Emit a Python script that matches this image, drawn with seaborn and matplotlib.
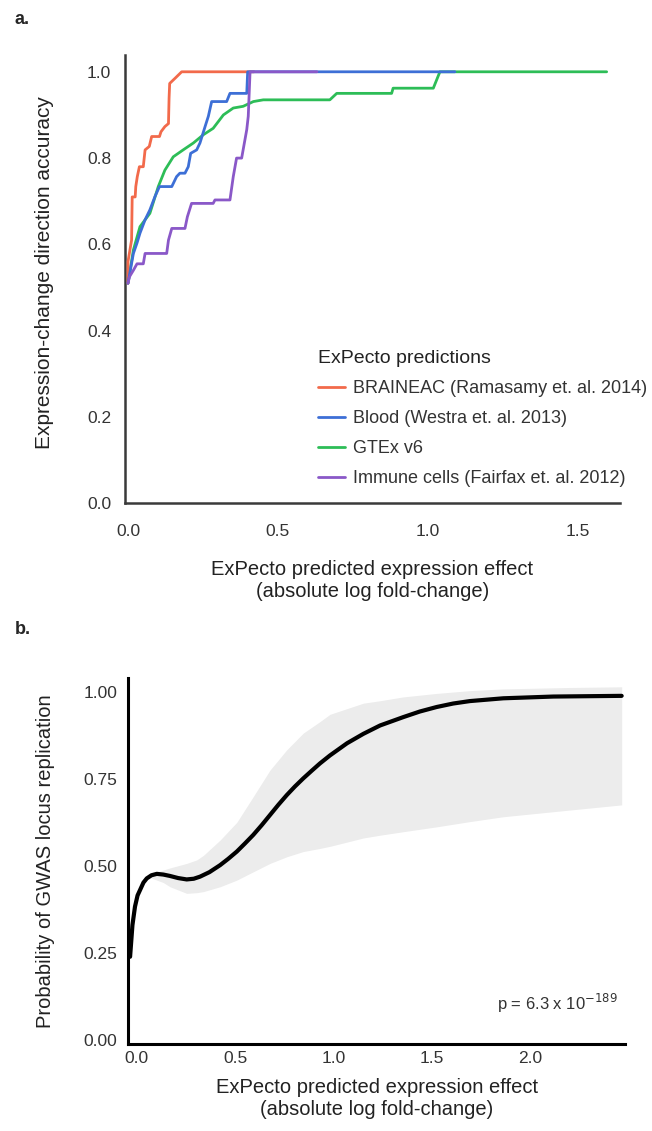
import matplotlib
matplotlib.use("Agg")
import matplotlib.pyplot as plt
import pandas as pd
import seaborn as sns

sns.set_theme(style="white")
plt.rcParams["font.family"] = ["Liberation Sans", "DejaVu Sans"]

# ------------------------------------------------------
# DATA  (panel a: direction accuracy curves)
# ------------------------------------------------------
series_names = [
    "BRAINEAC (Ramasamy et. al. 2014)",
    "Blood (Westra et. al. 2013)",
    "GTEx v6",
    "Immune cells (Fairfax et. al. 2012)",
]
series_colors = ["#f26a4b", "#3d6fd6", "#2dbd57", "#8a58c8"]

brain_x = [0.0, 0.0, 0.012, 0.014, 0.024, 0.026, 0.031, 0.038, 0.051, 0.057, 0.071, 0.079,
           0.105, 0.11, 0.123, 0.135, 0.137, 0.139, 0.157, 0.179, 0.42]
brain_y = [0.51, 0.56, 0.61, 0.71, 0.71, 0.734, 0.757, 0.78, 0.78, 0.819, 0.827, 0.85,
           0.85, 0.861, 0.873, 0.88, 0.939, 0.973, 0.985, 1.0, 1.0]

blood_x = [0.0, 0.018, 0.03, 0.04, 0.057, 0.073, 0.09, 0.105, 0.146, 0.162, 0.173, 0.19,
           0.201, 0.209, 0.229, 0.24, 0.257, 0.268, 0.279, 0.329, 0.34, 0.396, 0.399, 1.09]
blood_y = [0.51, 0.579, 0.603, 0.626, 0.657, 0.68, 0.711, 0.734, 0.734, 0.757, 0.765, 0.765,
           0.78, 0.811, 0.819, 0.835, 0.873, 0.897, 0.931, 0.931, 0.95, 0.95, 1.0, 1.0]

gtex_x = [0.0, 0.018, 0.04, 0.073, 0.101, 0.123, 0.151, 0.184, 0.218, 0.251, 0.284, 0.318,
          0.351, 0.384, 0.418, 0.451, 0.673, 0.696, 0.879, 0.884, 1.018, 1.04, 1.596]
gtex_y = [0.51, 0.587, 0.641, 0.672, 0.734, 0.772, 0.803, 0.819, 0.835, 0.854, 0.869, 0.9,
          0.916, 0.92, 0.931, 0.935, 0.935, 0.95, 0.95, 0.962, 0.962, 1.0, 1.0]

immune_x = [0.0, 0.005, 0.018, 0.03, 0.051, 0.057, 0.129, 0.135, 0.146, 0.19, 0.198, 0.212,
            0.284, 0.29, 0.34, 0.351, 0.362, 0.379, 0.396, 0.401, 0.407, 0.63]
immune_y = [0.51, 0.525, 0.54, 0.555, 0.555, 0.579, 0.579, 0.61, 0.637, 0.637, 0.664, 0.695,
            0.695, 0.703, 0.703, 0.757, 0.8, 0.8, 0.866, 0.897, 1.0, 1.0]

# ------------------------------------------------------
# DATA  (panel b: GWAS replication probability)
# ------------------------------------------------------
fit_x = [-0.034, -0.022, -0.009, 0.004, 0.017, 0.034, 0.051, 0.075, 0.102, 0.135, 0.169,
         0.21, 0.254, 0.29, 0.322, 0.37, 0.424, 0.465, 0.509, 0.55, 0.593, 0.636, 0.678,
         0.72, 0.763, 0.805, 0.847, 0.89, 0.932, 0.983, 1.07, 1.153, 1.238, 1.356, 1.44,
         1.526, 1.61, 1.695, 1.865, 2.119, 2.467]
fit_y = [0.239, 0.33, 0.383, 0.415, 0.431, 0.452, 0.464, 0.473, 0.477, 0.475, 0.471,
         0.465, 0.461, 0.463, 0.469, 0.482, 0.502, 0.52, 0.541, 0.564, 0.589, 0.617, 0.646,
         0.675, 0.703, 0.728, 0.751, 0.773, 0.794, 0.817, 0.852, 0.879, 0.903, 0.927, 0.943,
         0.956, 0.966, 0.973, 0.981, 0.986, 0.988]

band_x = [0.06, 0.135, 0.169, 0.254, 0.305, 0.339, 0.424, 0.509, 0.593, 0.678, 0.763,
          0.847, 0.932, 0.983, 1.153, 1.238, 1.356, 1.526, 1.695, 1.865, 2.2, 2.467]
band_hi = [0.474, 0.488, 0.494, 0.507, 0.517, 0.53, 0.574, 0.625, 0.699, 0.775, 0.833,
           0.881, 0.914, 0.935, 0.967, 0.974, 0.985, 0.995, 1.003, 1.008, 1.012, 1.014]
band_lo = [0.468, 0.452, 0.44, 0.421, 0.423, 0.426, 0.44, 0.459, 0.483, 0.507, 0.526,
           0.541, 0.55, 0.556, 0.58, 0.588, 0.598, 0.612, 0.627, 0.641, 0.66, 0.675]

fig = plt.figure(figsize=(6.52, 11.31), dpi=100)

# ------------------------------------------------------
# PANEL A
# ------------------------------------------------------
ax_a = fig.add_axes([0.1917, 0.555, 0.759, 0.3964])
curves = [(brain_x, brain_y), (blood_x, blood_y), (gtex_x, gtex_y), (immune_x, immune_y)]
zorders = [3, 4, 2, 5]
for (xs, ys), name, col, z in zip(curves, series_names, series_colors, zorders):
    df = pd.DataFrame({"x": xs, "y": ys})
    sns.lineplot(data=df, x="x", y="y", sort=False, estimator=None, color=col,
                 linewidth=2.0, label=name, zorder=z, ax=ax_a)

ax_a.set_xlim(-0.01, 1.64)
ax_a.set_ylim(0, 1.039)
ax_a.set_xticks([0.0, 0.5, 1.0, 1.5])
ax_a.set_yticks([0.0, 0.2, 0.4, 0.6, 0.8, 1.0])
ax_a.set_xticklabels(["0.0", "0.5", "1.0", "1.5"])
ax_a.set_yticklabels(["0.0", "0.2", "0.4", "0.6", "0.8", "1.0"])
ax_a.tick_params(axis="both", length=0, labelsize=12.5, colors="#333333")
ax_a.tick_params(axis="x", pad=15)
ax_a.tick_params(axis="y", pad=10)
ax_a.set_xlabel("ExPecto predicted expression effect\n(absolute log fold-change)",
                fontsize=14.5, color="#222222")
ax_a.set_ylabel("Expression-change direction accuracy", fontsize=15, color="#222222")
ax_a.xaxis.set_label_coords(0.5, -0.126)
ax_a.yaxis.set_label_coords(-0.143, 0.515)
for side in ["top", "right"]:
    ax_a.spines[side].set_visible(False)
for side in ["left", "bottom"]:
    ax_a.spines[side].set_color("#3a3a3a")
    ax_a.spines[side].set_linewidth(1.8)

handles, labels = ax_a.get_legend_handles_labels()
order = [labels.index(n) for n in series_names]
leg = ax_a.legend([handles[i] for i in order], [labels[i] for i in order],
                  title="ExPecto predictions", loc="upper left",
                  bbox_to_anchor=(0.39, 0.342), frameon=False, fontsize=13,
                  title_fontsize=14, alignment="left", borderpad=0, borderaxespad=0,
                  handlelength=1.5, handletextpad=0.45, labelspacing=0.72)
for t in leg.get_texts():
    t.set_color("#333333")
leg.get_title().set_color("#222222")

fig.text(0.022, 0.983, "a.", fontsize=13, fontweight="bold", ha="left", va="center")

# ------------------------------------------------------
# PANEL B
# ------------------------------------------------------
ax_b = fig.add_axes([0.1968, 0.0769, 0.7618, 0.3234])
ax_b.fill_between(band_x, band_lo, band_hi, color="#ececec", linewidth=0, zorder=1)
sns.lineplot(x=fit_x, y=fit_y, sort=False, estimator=None, color="black",
             linewidth=3.0, zorder=3, ax=ax_b)

ax_b.set_xlim(-0.043, 2.484)
ax_b.set_ylim(-0.0115, 1.0385)
ax_b.set_xticks([0.0, 0.5, 1.0, 1.5, 2.0])
ax_b.set_xticklabels(["0.0", "0.5", "1.0", "1.5", "2.0"])
ax_b.set_yticks([0.0, 0.25, 0.5, 0.75, 1.0])
ax_b.set_yticklabels(["0.00", "0.25", "0.50", "0.75", "1.00"])
ax_b.tick_params(axis="both", length=0, labelsize=12.5, colors="#333333")
ax_b.tick_params(axis="x", pad=5)
ax_b.tick_params(axis="y", pad=8)
ax_b.set_xlabel("ExPecto predicted expression effect\n(absolute log fold-change)",
                fontsize=14.5, color="#222222")
ax_b.set_ylabel("Probability of GWAS locus replication", fontsize=14.5, color="#222222")
ax_b.xaxis.set_label_coords(0.5, -0.093)
ax_b.yaxis.set_label_coords(-0.148, 0.5)
for side in ["top", "right"]:
    ax_b.spines[side].set_visible(False)
for side in ["left", "bottom"]:
    ax_b.spines[side].set_color("black")
    ax_b.spines[side].set_linewidth(2.2)

ax_b.text(2.448, 0.106, r"p = 6.3 x 10$^{-189}$", fontsize=12, ha="right", va="center",
          color="#333333")

fig.text(0.022, 0.443, "b.", fontsize=13, fontweight="bold", ha="left", va="center")

fig.savefig("out.png", dpi=100)
